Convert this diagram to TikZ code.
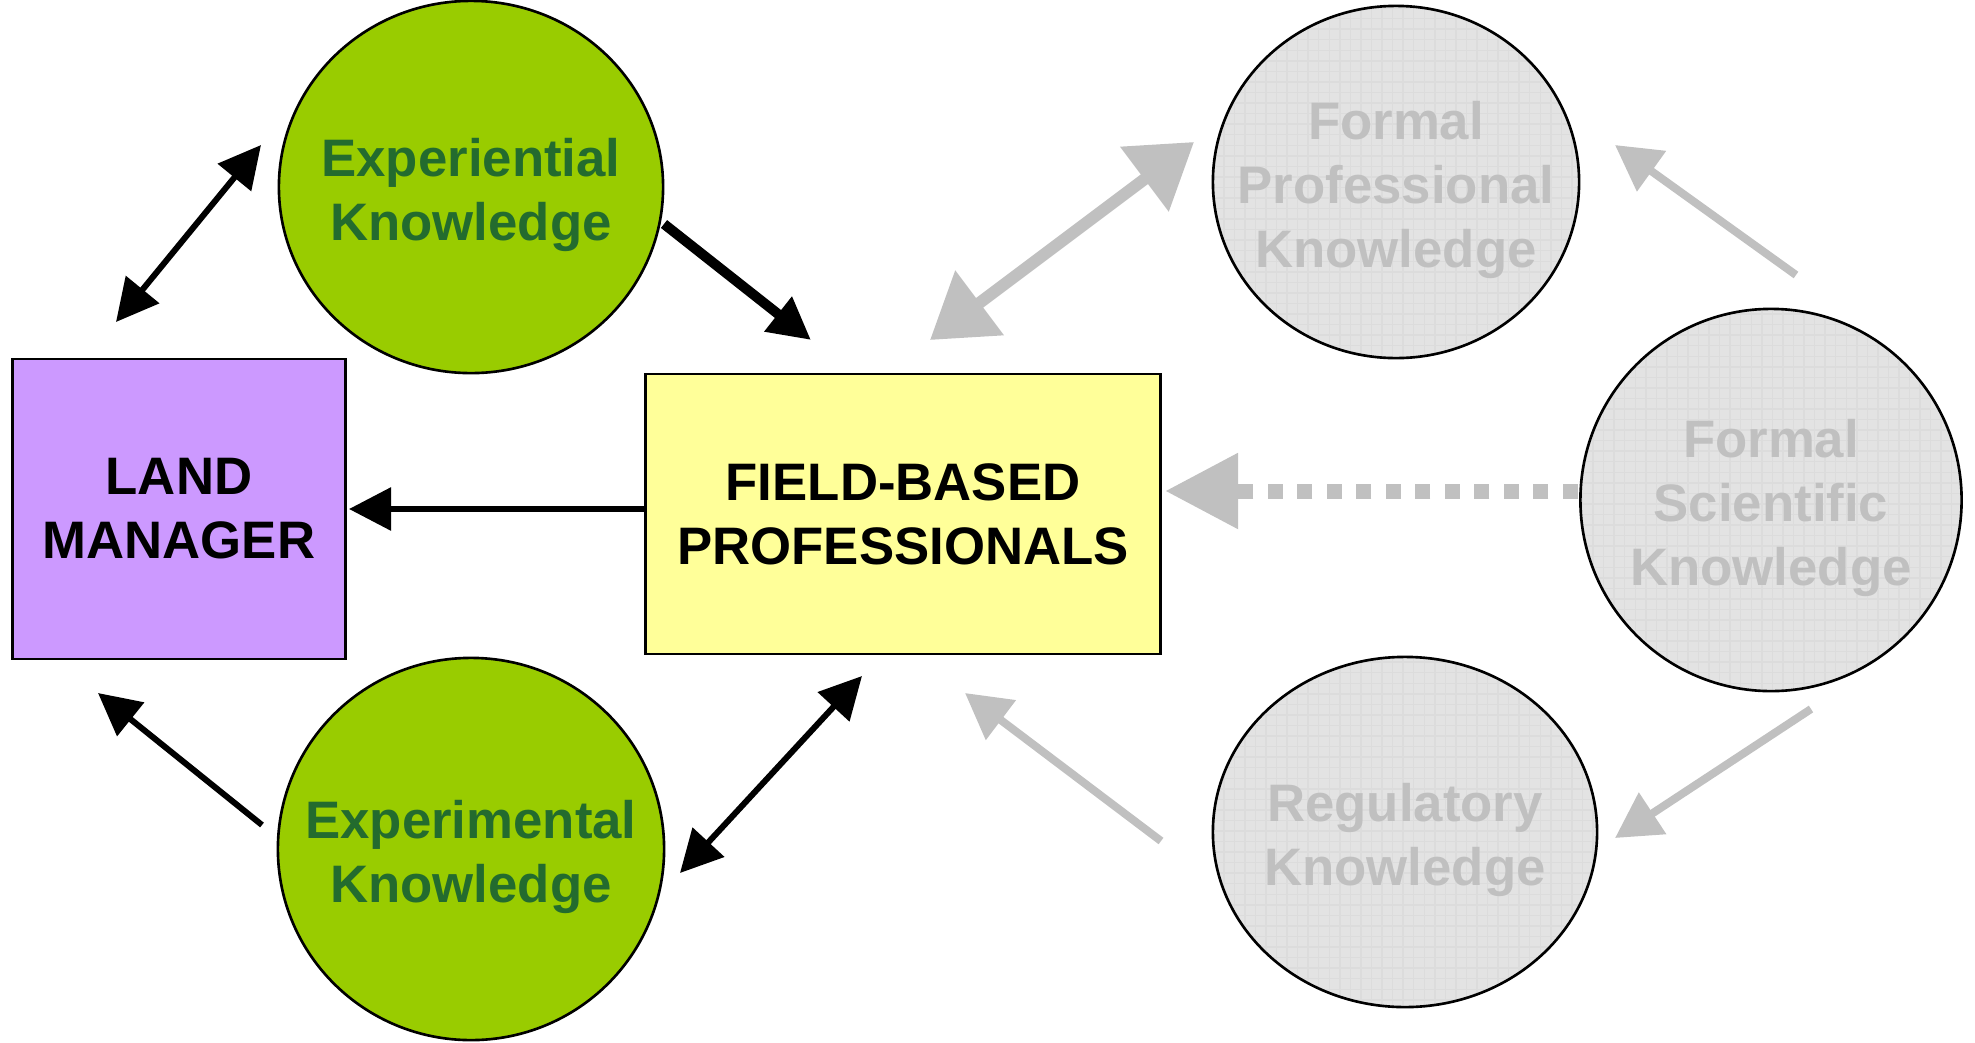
\documentclass[tikz,border=0pt]{standalone}
\usepackage{fontspec}
\setmainfont{Liberation Sans}
\usetikzlibrary{arrows.meta,shapes.geometric,patterns}
\definecolor{leafgreen}{HTML}{99CC00}
\definecolor{darkleaf}{HTML}{236B2E}
\definecolor{lilac}{HTML}{CC99FF}
\definecolor{paleyellow}{HTML}{FFFF99}
\definecolor{ashgrey}{HTML}{C0C0C0}
\definecolor{mistgrey}{HTML}{E3E3E3}
\tikzset{
	knowledge/.style={ellipse, draw=black, line width=0.75pt, inner sep=0pt},
	boldtext/.style={align=center, font=\bfseries\fontsize{15}{18.2}\selectfont},
	greenknow/.style={knowledge, fill=leafgreen},
	greyknow/.style={knowledge, preaction={fill=mistgrey}, pattern=grid, pattern color=ashgrey!55},
	greentext/.style={boldtext, text=darkleaf, yshift=-0.08cm},
	greytext/.style={boldtext, text=ashgrey, yshift=-0.075cm},
	actor/.style={rectangle, draw=black, line width=0.75pt, boldtext},
	link/.style={line width=0.06cm, -{Triangle[length=0.42cm,width=0.42cm]}},
	twolink/.style={line width=0.06cm, {Triangle[length=0.42cm,width=0.42cm]}-{Triangle[length=0.42cm,width=0.42cm]}},
	greylink/.style={ashgrey, line width=0.08cm, -{Triangle[length=0.45cm,width=0.48cm]}}
}

\begin{document}
\begin{tikzpicture}[x=0.01cm, y=-0.01cm]
			%%%%% START %%%%%
			\useasboundingbox (0, 0) rectangle (1975, 1042);
			
			\node[greenknow, minimum width=3.84cm, minimum height=3.72cm, label={[greentext]center:Experiential\\Knowledge}] (expt) at (471, 187) {};
			\node[greenknow, minimum width=3.86cm, minimum height=3.82cm, label={[greentext]center:Experimental\\Knowledge}] (expm) at (471, 849) {};
			
			\node[actor, fill=lilac, minimum width=3.33cm, minimum height=3.0cm] (lm) at (179, 509) {LAND\\MANAGER};
			\node[actor, fill=paleyellow, minimum width=5.15cm, minimum height=2.8cm] (fbp) at (903, 514) {FIELD-BASED\\PROFESSIONALS};
			
			\node[greyknow, minimum width=3.66cm, minimum height=3.52cm, label={[greytext]center:Formal\\Professional\\Knowledge}] (fpk) at (1396, 182) {};
			\node[greyknow, minimum width=3.81cm, minimum height=3.82cm, label={[greytext]center:Formal\\Scientific\\Knowledge}] (fsk) at (1771, 500) {};
			\node[greyknow, minimum width=3.84cm, minimum height=3.50cm, label={[greytext]center:Regulatory\\Knowledge}] (reg) at (1405, 832) {};
			
			% arrow ends
			\coordinate (lmA) at (116, 322);
			\coordinate (exptA) at (261, 145);
			\coordinate (exptB) at (664, 224);
			\coordinate (fbpA) at (811, 340);
			\coordinate (fbpB) at (646, 509);
			\coordinate (lmB) at (349, 509);
			\coordinate (expmA) at (262, 825);
			\coordinate (lmC) at (98, 693);
			\coordinate (expmB) at (680, 873);
			\coordinate (fbpC) at (862, 676);
			\coordinate (fbpD) at (930, 340);
			\coordinate (fpkA) at (1194, 142);
			\coordinate (fskA) at (1796, 275);
			\coordinate (fpkB) at (1615, 145);
			\coordinate (fskB) at (1578, 491);
			\coordinate (fbpE) at (1165, 491);
			\coordinate (fskC) at (1811, 709);
			\coordinate (regA) at (1615, 838);
			\coordinate (regB) at (1161, 841);
			\coordinate (fbpF) at (965, 693);
			
			\draw[twolink] (lmA) -- (exptA);
			\draw[link, line width=0.1cm] (exptB) -- (fbpA);
			\draw[link] (fbpB) -- (lmB);
			\draw[link] (expmA) -- (lmC);
			\draw[twolink] (expmB) -- (fbpC);
			
			\draw[ashgrey, line width=0.12cm, {Triangle[length=0.62cm,width=0.78cm]}-{Triangle[length=0.62cm,width=0.78cm]}] (fbpD) -- (fpkA);
			\draw[greylink] (fskA) -- (fpkB);
			\draw[ashgrey, line width=0.15cm, dash pattern=on 0.15cm off 0.145cm, -{Triangle[length=0.73cm,width=0.72cm]}] (fskB) -- (fbpE);
			\draw[greylink] (fskC) -- (regA);
			\draw[greylink] (regB) -- (fbpF);
			
			%%%%% END %%%%%
\end{tikzpicture}
\end{document}
